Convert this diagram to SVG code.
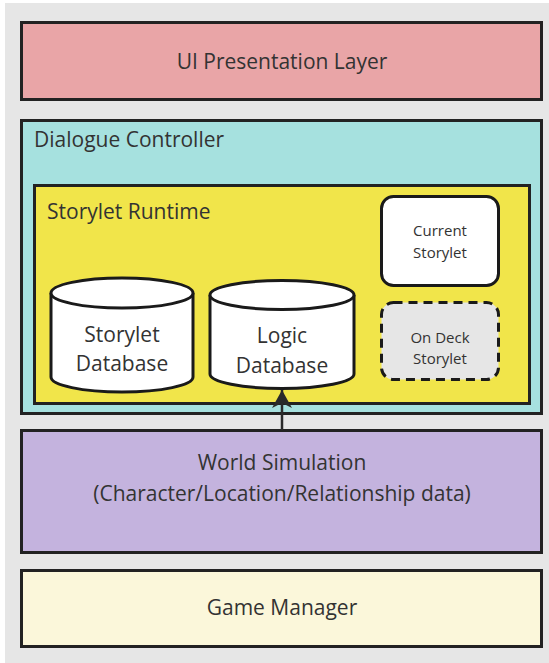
<svg xmlns="http://www.w3.org/2000/svg" width="549" height="663" viewBox="0 0 549 663">
  <defs>
    <style>
      .box { stroke: #222; stroke-width: 3; }
      .lbl { font-family: "Open Sans", "Noto Sans", sans-serif; fill: #333; }
      .c { text-anchor: middle; }
      .db { fill: #fff; stroke: #1a1a1a; stroke-width: 3; }
    </style>
    <marker id="arrow" viewBox="0 0 20 20" refX="18" refY="10" markerWidth="20" markerHeight="22" markerUnits="userSpaceOnUse" orient="auto">
      <path d="M18,10 L0,0 L5,10 L0,20 Z" fill="#2a2a2a"/>
    </marker>
  </defs>

  <!-- canvas -->
  <rect x="5" y="3" width="544" height="660" fill="#e6e6e6"/>

  <g id="ui-layer">
    <rect class="box" x="21.5" y="22.5" width="520" height="77" fill="#e9a5a7"/>
    <text class="lbl c" x="282" y="69" font-size="21">UI Presentation Layer</text>
  </g>

  <g id="dialogue-controller">
    <rect class="box" x="21.5" y="120.5" width="520" height="293" fill="#a6e1df"/>
    <text class="lbl" x="34" y="147" font-size="21">Dialogue Controller</text>
  </g>

  <g id="storylet-runtime">
    <rect class="box" x="34.5" y="185.5" width="495" height="218" fill="#f1e54a"/>
    <text class="lbl" x="47" y="219" font-size="21">Storylet Runtime</text>
  </g>

  <g id="storylet-database">
    <path class="db" d="M51,293 L51,377 A71,15 0 0 0 193,377 L193,293"/>
    <ellipse class="db" cx="122" cy="293" rx="71" ry="15"/>
    <text class="lbl c" x="122" y="342" font-size="21">Storylet</text>
    <text class="lbl c" x="122" y="371" font-size="21">Database</text>
  </g>

  <g id="logic-database">
    <path class="db" d="M210,295 L210,374 A72,14.5 0 0 0 354,374 L354,295"/>
    <ellipse class="db" cx="282" cy="295" rx="72" ry="14.5"/>
    <text class="lbl c" x="282" y="343" font-size="21">Logic</text>
    <text class="lbl c" x="282" y="373" font-size="21">Database</text>
  </g>

  <g id="current-storylet">
    <rect x="381.5" y="196.5" width="117" height="89" rx="12" fill="#fff" stroke="#1a1a1a" stroke-width="3"/>
    <text class="lbl c" x="440" y="236" font-size="15">Current</text>
    <text class="lbl c" x="440" y="258" font-size="15">Storylet</text>
  </g>

  <g id="on-deck-storylet">
    <rect x="381.5" y="302.5" width="117" height="77" rx="12" fill="#e6e6e6" stroke="#1a1a1a" stroke-width="3" stroke-dasharray="9 6"/>
    <text class="lbl c" x="440" y="343" font-size="15">On Deck</text>
    <text class="lbl c" x="440" y="364" font-size="15">Storylet</text>
  </g>

  <g id="world-simulation">
    <rect class="box" x="21.5" y="430.5" width="520" height="122" fill="#c4b3de"/>
    <text class="lbl c" x="282" y="470" font-size="21">World Simulation</text>
    <text class="lbl c" x="282" y="501" font-size="21">(Character/Location/Relationship data)</text>
  </g>

  <g id="game-manager">
    <rect class="box" x="21.5" y="570.5" width="520" height="76" fill="#fbf7da"/>
    <text class="lbl c" x="282" y="615" font-size="21">Game Manager</text>
  </g>

  <g id="connectors">
    <line x1="282" y1="430" x2="282" y2="390" stroke="#2a2a2a" stroke-width="2.5" marker-end="url(#arrow)"/>
  </g>
</svg>
